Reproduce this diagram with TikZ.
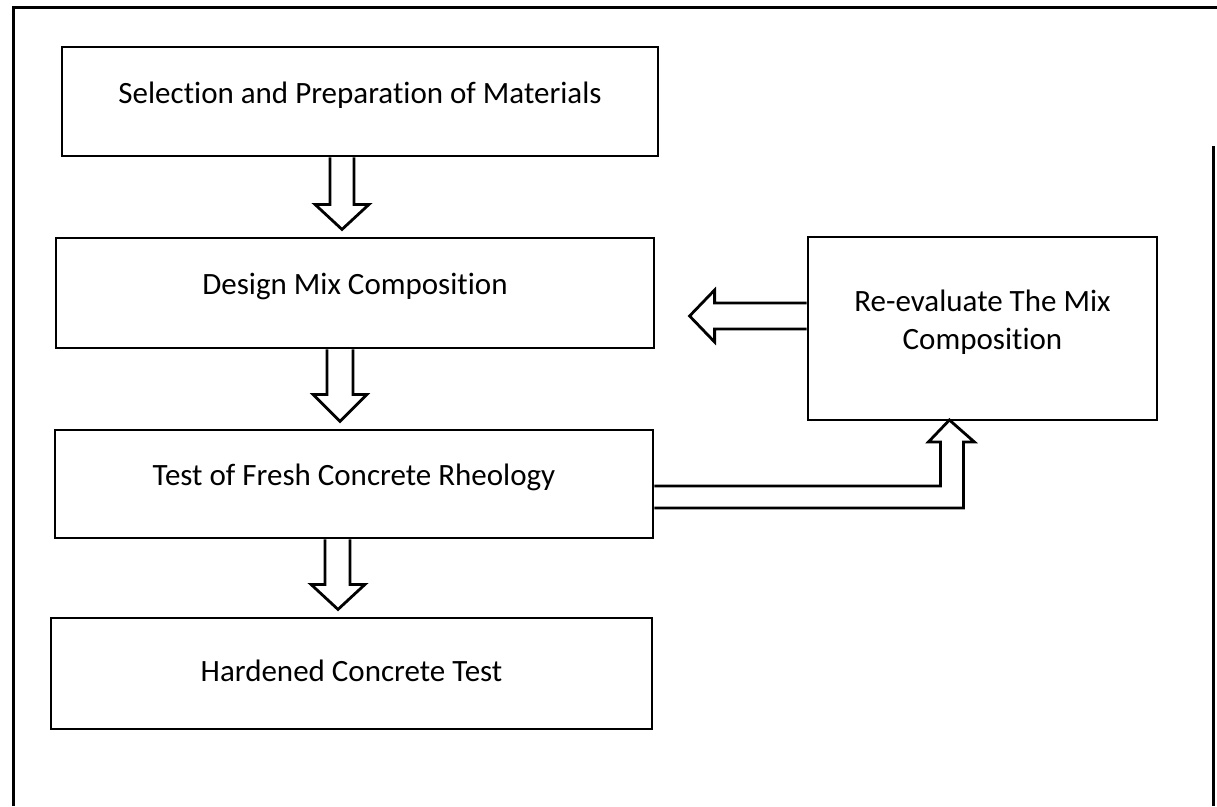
\documentclass[tikz,border=0pt]{standalone}
\usepackage{fontspec}
\setmainfont{Carlito}[Ligatures=NoCommon]
\usepackage{tikz}
\usetikzlibrary{calc}

\begin{document}
\begin{tikzpicture}[x=1pt, y=-1pt, every node/.style={font=\fontsize{31}{38}\selectfont},
  box/.style={draw, line width=2.8pt, rectangle, inner sep=0pt, align=center, text depth=18pt},
  blockarrow/.style={draw, line width=2.8pt, line join=miter}]
  \useasboundingbox (0,0) rectangle (1217,806);
  \draw[line width=3pt] (13,806) -- (13,7) -- (1217,7);
  \draw[line width=3pt] (1213,146) -- (1213,806);
  \node[box, minimum width=596, minimum height=109] (sel) at (360,101.5) {Selection and Preparation of Materials};
  \node[box, minimum width=598, minimum height=110] (design) at (355,293) {Design Mix Composition};
  \node[box, minimum width=598, minimum height=108] (fresh) at (354,484) {Test of Fresh Concrete Rheology};
  \node[box, minimum width=601, minimum height=111, text depth=6pt] (hard) at (351.5,673.5) {Hardened Concrete Test};
  \node[box, minimum width=349, minimum height=183] (reeval) at (982.5,328.5) {Re-evaluate The Mix\\Composition};
  \draw[blockarrow] ($(sel.south)+(-30,0)$) -- ++(0,47) -- ++(-15,0) -- ++(27,25) -- ++(27,-25) -- ++(-15,0) -- ++(0,-47);
  \draw[blockarrow] ($(design.south)+(-28,0)$) -- ++(0,45) -- ++(-14,0) -- ++(27,27) -- ++(27,-27) -- ++(-14,0) -- ++(0,-45);
  \draw[blockarrow] ($(fresh.south)+(-29,0)$) -- ++(0,45) -- ++(-14,0) -- ++(27,25) -- ++(27,-25) -- ++(-15,0) -- ++(0,-45);
  \draw[blockarrow] ($(reeval.west)+(0,-25.5)$) -- ++(-92,0) -- ++(0,-13) -- ++(-25,26) -- ++(25,26) -- ++(0,-13) -- ++(92,0);
  \draw[blockarrow] ($(fresh.east)+(0,2)$) -- ++(286,0) -- ++(0,-44) -- ++(-12,0) -- ++(21,-22) -- ++(25,22) -- ++(-11,0) -- ++(0,66) -- ++(-309,0);
\end{tikzpicture}
\end{document}
